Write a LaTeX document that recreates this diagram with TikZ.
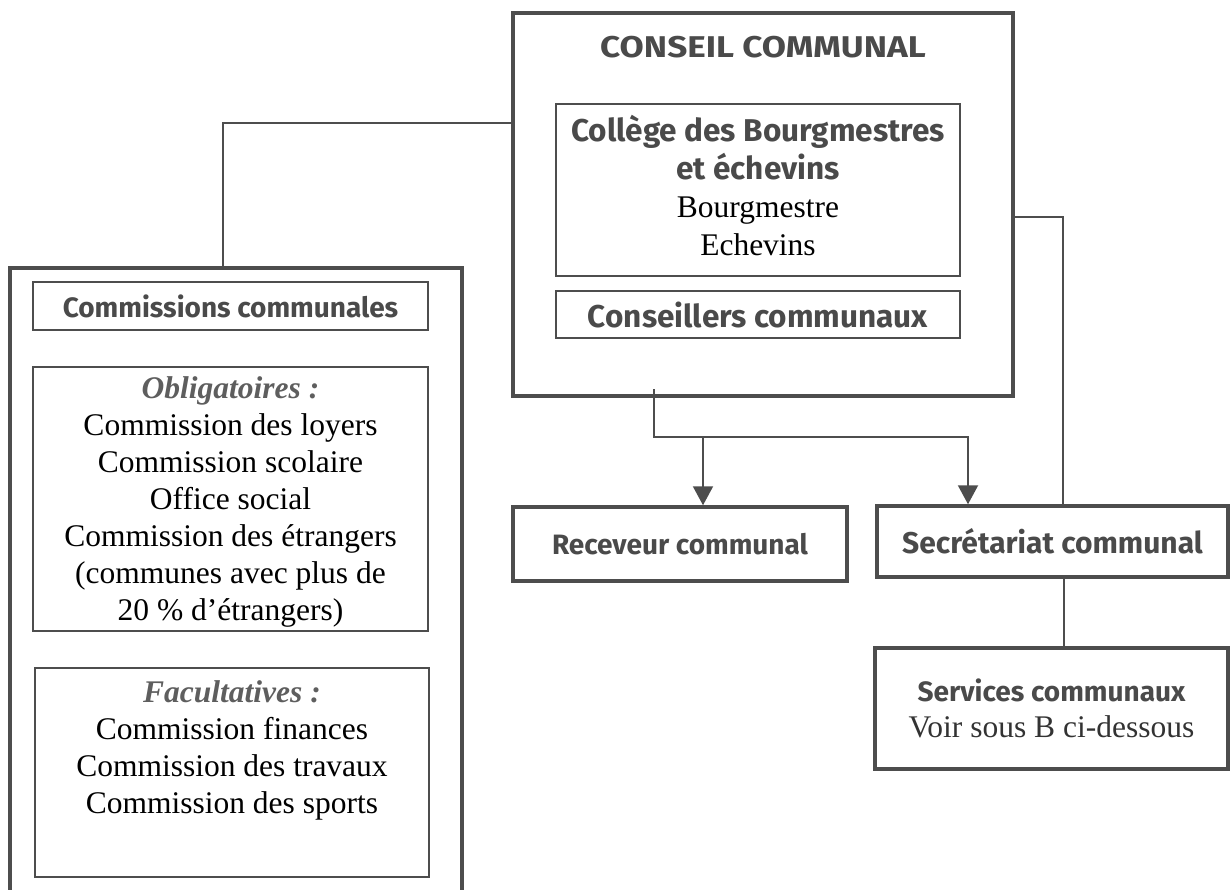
\documentclass[tikz,border=0pt]{standalone}
\usepackage{fontspec}
\setmainfont{Liberation Serif}
\newfontfamily\headfont{Fira Sans}
\newfontfamily\titlefont{Fira Sans}[FakeStretch=1.17]
\usetikzlibrary{arrows.meta,positioning}

\definecolor{linegray}{HTML}{4D4D4D}
\definecolor{headgray}{HTML}{4A4A4A}
\definecolor{italgray}{HTML}{5E5E5E}

\newcommand{\hd}[1]{{\headfont\bfseries\color{headgray}#1}}
\newcommand{\ital}[1]{{\bfseries\itshape\color{italgray}#1}}

\begin{document}
\begin{tikzpicture}[x=1pt, y=-1pt,
  bigbox/.style={draw=linegray, line width=4.5pt, inner sep=0pt},
  midbox/.style={draw=linegray, line width=3.5pt, inner sep=0pt, font=\headfont\bfseries\fontsize{28}{36}\selectfont, text=headgray},
  thinbox/.style={draw=linegray, line width=1.5pt, inner sep=0pt, align=center, font=\fontsize{31.5}{37}\selectfont},
  conn/.style={draw=linegray, line width=2pt},
  tip/.style={-{Triangle[width=20pt,length=19pt]}}]

\useasboundingbox (0,0) rectangle (1232,890);

% Conseil communal
\node[bigbox, minimum width=500pt, minimum height=383pt] (conseil) at (763,204.5) {};
\node[font=\titlefont\bfseries\fontsize{30}{36}\selectfont, text=headgray] (titre) at (763,47) {CONSEIL COMMUNAL};
\node[thinbox, minimum width=404pt, minimum height=172pt, text depth=10pt, font=\fontsize{31.5}{38}\selectfont] (college) at (758,190)
  {\hd{Collège des Bourgmestres}\\\hd{et échevins}\\Bourgmestre\\Echevins};
\node[thinbox, minimum width=404pt, minimum height=47pt] (conseillers) at (758,314.5) {\hd{Conseillers communaux}};

% Commissions (box runs off the page)
\node[bigbox, minimum width=452pt, minimum height=640pt] (commissions) at (236,588) {};
\node[thinbox, minimum width=395pt, minimum height=48pt] (commhead) at (230.5,306) {\hd{\fontsize{28}{32}\selectfont Commissions communales}};
\node[thinbox, minimum width=395pt, minimum height=264pt, text depth=-2pt] (oblig) at (230.5,499)
  {\ital{Obligatoires :}\\Commission des loyers\\Commission scolaire\\Office social\\Commission des étrangers\\(communes avec plus de\\20 \% d’étrangers)};
\node[thinbox, minimum width=394pt, minimum height=209pt] (facult) at (232,772.5) {};
\node[align=center, inner sep=0pt, font=\fontsize{31.5}{37}\selectfont, below=13pt of facult.north] (factext)
  {\ital{Facultatives :}\\Commission finances\\Commission des travaux\\Commission des sports};

% Receveur, secretariat, services
\node[midbox, minimum width=334pt, minimum height=74pt] (receveur) at (680,544) {Receveur communal};
\node[midbox, minimum width=351pt, minimum height=71pt] (secretariat) at (1052.5,541.5) {\fontsize{30}{36}\selectfont Secrétariat communal};
\node[midbox, minimum width=353pt, minimum height=121pt, align=center] (services) at (1051.5,708.5)
  {Services communaux\\{\rmfamily\mdseries\color{black!80}\fontsize{31.5}{36}\selectfont Voir sous B ci-dessous}};

% Connectors
\draw[conn] ([yshift=-112pt]conseil.north west) -| ([xshift=-13pt]commissions.north);
\draw[conn] ([yshift=-206pt]conseil.north east) -| ([xshift=10.5pt]secretariat.north);

\coordinate (stub) at ([xshift=-109pt,yshift=9pt]conseil.south);
\coordinate (split) at ([yshift=-48pt]stub);
\coordinate (rec) at ([xshift=23pt]receveur.north);
\draw[conn, tip] (stub) -- (split) -| ([xshift=-84.5pt]secretariat.north);
\draw[conn, tip] (split -| rec) -- (rec);

\draw[conn] ([xshift=11.5pt]secretariat.south) -- ([xshift=11.5pt]secretariat.south |- services.north);

\end{tikzpicture}
\end{document}
